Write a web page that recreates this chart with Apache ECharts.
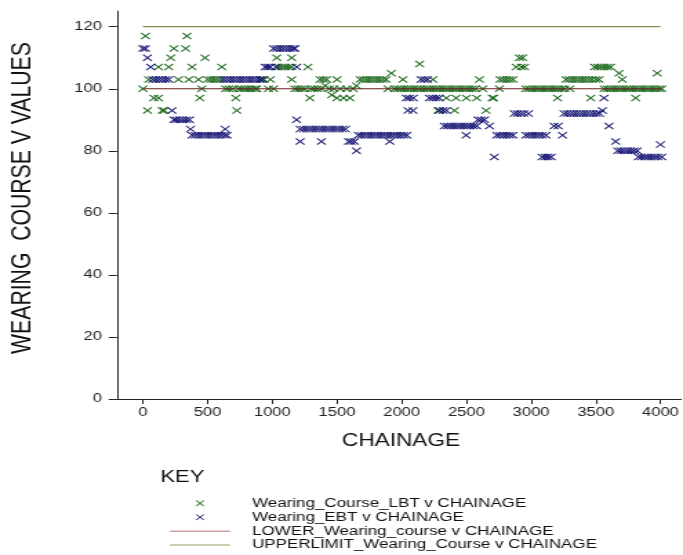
<!DOCTYPE html>
<html>
<head>
<meta charset="utf-8">
<script src="https://cdn.jsdelivr.net/npm/echarts@6/dist/echarts.min.js"></script>
<style>
  html, body { margin: 0; padding: 0; background: #fff; overflow: hidden; }
  #wrap { width: 683px; height: 555px; overflow: hidden; }
  /* the chart is laid out narrow and widened horizontally */
  #chart { width: 495px; height: 555px; transform: scaleX(1.3798); transform-origin: 0 0; }
</style>
</head>
<body>
<div id="wrap"><div id="chart"></div></div>
<script>
// Wearing course readings against chainage
const lbtChainage = [0,20,35,45,85,120,120,150,165,200,215,240,275,330,340,355,380,430,440,455,480,500,525,550,575,600,610,640,665,695,718,726,740,765,790,815,840,865,880,910,935,970,985,1010,1035,1050,1075,1100,1125,1150,1150,1150,1175,1200,1225,1250,1275,1290,1300,1325,1350,1370,1380,1395,1410,1420,1440,1460,1475,1500,1500,1525,1550,1575,1600,1625,1650,1680,1705,1730,1755,1780,1805,1830,1855,1880,1895,1920,1945,1970,1995,2010,2020,2045,2070,2095,2120,2139,2145,2170,2195,2220,2241,2245,2270,2280,2295,2320,2345,2345,2370,2395,2408,2420,2420,2445,2470,2495,2500,2520,2545,2570,2580,2601,2627,2652,2700,2710,2755,2760,2785,2810,2835,2860,2885,2910,2925,2935,2950,2960,2985,3010,3035,3060,3085,3110,3135,3160,3185,3204,3210,3235,3260,3270,3295,3300,3320,3345,3370,3395,3420,3445,3461,3470,3490,3500,3515,3525,3540,3565,3565,3590,3590,3615,3615,3640,3665,3680,3690,3705,3715,3740,3765,3790,3808,3815,3840,3865,3890,3915,3940,3965,3975,3990,4010];
const lbtValues = [100,117,93,103,97,97,107,93,93,107,110,113,103,113,117,103,107,103,97,100,110,103,103,103,103,103,107,100,100,100,97,93,100,100,100,100,100,100,100,103,103,100,103,100,110,107,107,107,107,107,110,103,100,100,100,100,107,97,100,100,100,103,100,103,101,103,100,98,100,97,103,100,97,100,97,100,101,103,103,103,103,103,103,103,103,103,100,105,100,100,100,103,100,100,100,100,100,108,100,100,100,100,103,100,100,93,100,100,97,100,100,100,93,97,100,100,100,100,97,100,100,100,97,103,100,93,97,97,100,103,103,103,103,103,107,110,107,110,107,100,100,100,100,100,100,100,100,100,100,97,100,100,100,103,103,100,103,103,103,103,103,103,97,103,107,103,107,103,107,107,100,107,100,107,100,100,100,105,100,103,100,100,100,100,97,100,100,100,100,100,100,100,105,100,100];

const ebtChainage = [0,20,35,60,75,100,125,150,175,200,225,240,260,285,310,335,360,368,380,405,430,455,480,505,530,555,580,605,630,636,650,625,650,675,700,725,750,775,800,825,850,875,900,925,945,965,985,1010,1030,1035,1060,1085,1110,1135,1160,1175,1188,1188,1215,1215,1240,1265,1290,1315,1340,1365,1380,1390,1415,1440,1465,1490,1515,1540,1565,1590,1610,1635,1651,1665,1690,1715,1740,1765,1790,1815,1840,1865,1890,1908,1915,1940,1965,1990,2015,2036,2040,2049,2060,2087,2090,2150,2175,2200,2215,2240,2265,2290,2293,2320,2330,2345,2355,2380,2405,2430,2455,2480,2498,2505,2530,2555,2580,2590,2614,2640,2678,2716,2735,2760,2785,2810,2835,2860,2870,2895,2920,2945,2960,2980,2985,3010,3035,3060,3085,3085,3110,3115,3130,3155,3178,3210,3243,3255,3280,3305,3330,3355,3380,3405,3430,3455,3480,3505,3530,3551,3564,3602,3654,3670,3695,3720,3745,3770,3795,3820,3830,3855,3880,3905,3930,3955,3980,4000,4010];
const ebtValues = [113,113,110,107,103,103,103,103,103,103,93,90,90,90,90,90,90,87,85,85,85,85,85,85,85,85,85,85,85,87,85,103,103,103,103,103,103,103,103,103,103,103,103,103,107,107,107,113,107,113,113,113,113,113,113,113,107,90,83,87,87,87,87,87,87,87,83,87,87,87,87,87,87,87,87,83,83,83,80,85,85,85,85,85,85,85,85,85,85,83,85,85,85,85,85,97,85,93,97,93,97,103,103,103,97,97,97,97,93,93,88,93,88,88,88,88,88,88,85,88,88,88,88,90,90,90,88,78,85,85,85,85,85,85,92,92,92,92,85,92,85,85,85,85,78,85,78,85,78,78,88,88,85,92,92,92,92,92,92,92,92,92,92,92,92,93,97,88,83,80,80,80,80,80,80,80,78,78,78,78,78,78,78,82,78];

// Specification limits
const limitChainage = [0, 4000];
const upperLimit = [120, 120];
const lowerLimit = [100, 100];

// Axis ticks
const xTicks = [0, 500, 1000, 1500, 2000, 2500, 3000, 3500, 4000];
const yTicks = [0, 20, 40, 60, 80, 100, 120];

const seriesNames = [
  'Wearing_Course_LBT v CHAINAGE',
  'Wearing_EBT v CHAINAGE',
  'LOWER_Wearing_course v CHAINAGE',
  'UPPERLIMIT_Wearing_Course v CHAINAGE'
];

const pairs = (xs, ys) => xs.map((x, i) => [x, ys[i]]);
const crossMark = 'path://M0,1L1,0L5,4L9,0L10,1L6,5L10,9L9,10L5,6L1,10L0,9L4,5Z';
const lineIcon = 'path://M0,0L100,0L100,2L0,2Z';
const labelFont = "'Liberation Sans', Arial, sans-serif";

const chart = echarts.init(document.getElementById('chart'));
chart.setOption({
  animation: false,
  backgroundColor: '#fff',
  grid: { left: 84.8, right: 0, top: 11.2, bottom: 156, containLabel: false },
  xAxis: {
    type: 'value', min: -200, max: 4160,
    splitLine: { show: false },
    axisLine: { show: true, onZero: false, lineStyle: { color: '#222', width: 1 } },
    axisTick: { show: true, length: 5, customValues: xTicks, lineStyle: { color: '#222' } },
    axisLabel: { customValues: xTicks, margin: 8, fontSize: 12, color: '#222', fontFamily: labelFont, formatter: v => String(v) }
  },
  yAxis: {
    type: 'value', min: 0, max: 125,
    splitLine: { show: false },
    axisLine: { show: true, onZero: false, lineStyle: { color: '#222', width: 1 } },
    axisTick: { show: true, length: 6, customValues: yTicks, lineStyle: { color: '#222' } },
    axisLabel: { customValues: yTicks, margin: 11, fontSize: 12, color: '#222', fontFamily: labelFont, formatter: v => String(v) }
  },
  legend: {
    orient: 'vertical', left: 123.2, top: 496.4, padding: 0,
    itemWidth: 43.5, itemHeight: 6, itemGap: 0, symbolKeepAspect: true,
    textStyle: { fontSize: 12.3, color: '#111', fontFamily: labelFont, lineHeight: 5.9, padding: [8, 0, 0, 11] },
    data: [
      { name: seriesNames[0] },
      { name: seriesNames[1] },
      { name: seriesNames[2], icon: lineIcon },
      { name: seriesNames[3], icon: lineIcon }
    ]
  },
  series: [
    {
      name: seriesNames[0], type: 'scatter', symbol: crossMark, symbolSize: 7,
      itemStyle: { color: '#1f6b1f', opacity: 1 },
      data: pairs(lbtChainage, lbtValues), z: 2
    },
    {
      name: seriesNames[1], type: 'scatter', symbol: crossMark, symbolSize: 7,
      itemStyle: { color: '#1b1b78', opacity: 1 },
      data: pairs(ebtChainage, ebtValues), z: 3
    },
    {
      name: seriesNames[2], type: 'line', symbol: 'none', showSymbol: false,
      lineStyle: { color: '#6a1e1e', width: 1 }, itemStyle: { color: '#9a4848' },
      data: pairs(limitChainage, lowerLimit), z: 4
    },
    {
      name: seriesNames[3], type: 'line', symbol: 'none', showSymbol: false,
      lineStyle: { color: '#6e6c30', width: 1 }, itemStyle: { color: '#a09c68' },
      data: pairs(limitChainage, upperLimit), z: 4
    }
  ],
  graphic: [
    {
      type: 'text', x: 16.9, y: 198, rotation: Math.PI / 2, scaleX: 1.06,
      style: { text: 'WEARING  COURSE V VALUES', font: "20px 'Liberation Sans', Arial, sans-serif", fill: '#111', align: 'center', verticalAlign: 'middle' }
    },
    {
      type: 'text', x: 290.6, y: 440.5, scaleX: 0.886,
      style: { text: 'CHAINAGE', font: "18.5px 'Liberation Sans', Arial, sans-serif", fill: '#111', align: 'center', verticalAlign: 'middle' }
    },
    {
      type: 'text', x: 132.2, y: 477.5,
      style: { text: 'KEY', font: "16px 'Liberation Sans', Arial, sans-serif", fill: '#111', align: 'center', verticalAlign: 'middle' }
    }
  ]
});
</script>
</body>
</html>
